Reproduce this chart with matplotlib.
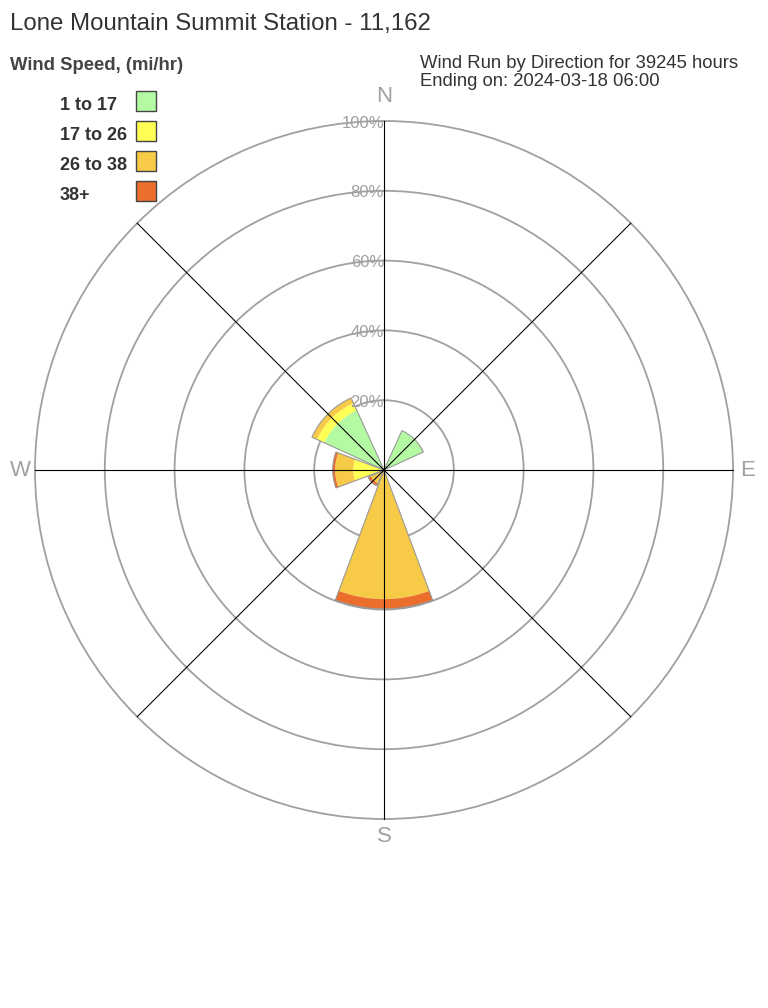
import numpy as np
import matplotlib.pyplot as plt
from matplotlib.patches import Rectangle

plt.rcParams['font.family'] = ['Liberation Sans', 'DejaVu Sans']

# DATA
retninger = ['N', 'NE', 'E', 'SE', 'S', 'SW', 'W', 'NW']
vinkler = np.arange(8) * 45.0
klasser = ['1 to 17', '17 to 26', '26 to 38', '38+']
farger = ['#b3faa3', '#ffff55', '#f7cb47', '#ec6e2d']
# prosent av vindlop per retning og fartsklasse
p_1_17 = [0, 12.4, 0, 0, 0, 0.3, 1.0, 18.8]
p_17_26 = [0, 0, 0, 0, 0, 0.7, 7.8, 2.3]
p_26_38 = [0, 0, 0, 0, 37.0, 3.2, 5.2, 1.6]
p_38 = [0, 0, 0, 0, 2.8, 0.8, 0.7, 0]
ringer = [20, 40, 60, 80, 100]
himmel = ['N', 'E', 'S', 'W']
himmel_vinkel = [0, 90, 180, 270]

serier = [p_1_17, p_17_26, p_26_38, p_38]

# FIGUR
W, H = 768, 1008
fig = plt.figure(figsize=(W / 100, H / 100), dpi=100)
rmax = 101
rad_px = 349 * rmax / 100
cx, cy = 384, H - 470
ax = fig.add_axes([(cx - rad_px) / W, (cy - rad_px) / H, 2 * rad_px / W, 2 * rad_px / H],
                  projection='polar')
ax.set_theta_zero_location('N')
ax.set_theta_direction(-1)
ax.set_ylim(0, rmax)
ax.set_yticks(ringer)
ax.set_yticklabels([])
ax.set_xticks([])
ax.spines['polar'].set_visible(False)
ax.yaxis.grid(True, color='#a0a0a0', lw=1.3)
ax.set_axisbelow(True)

theta = np.deg2rad(vinkler)
bredde = np.deg2rad(41)
bunn = np.zeros(8)
for verdier, farge in zip(serier, farger):
    v = np.array(verdier, dtype=float)
    m = v > 0
    ax.bar(theta[m], v[m], width=bredde, bottom=bunn[m], color=farge,
           edgecolor='none', zorder=2)
    bunn += v
m = bunn > 0
ax.bar(theta[m], bunn[m], width=bredde, bottom=0, fill=False,
       edgecolor='#999999', lw=0.8, zorder=3)

# eiker
for t in theta:
    ax.plot([t, t], [0, 100], color='black', lw=0.8, zorder=4)

for r in ringer:
    ax.text(0, r - 0.6, f'{r}%', ha='right', va='center', color='#a0a0a0',
            fontsize=12, zorder=5)

avstand = [106.9, 104.3, 104.9, 104.3]
for navn, v, d in zip(himmel, himmel_vinkel, avstand):
    ax.text(np.deg2rad(v), d, navn, ha='center', va='center',
            color='#a0a0a0', fontsize=16)

# TEKST
def fy(px):
    return 1 - px / H

fig.text(10 / W, fy(30), 'Lone Mountain Summit Station - 11,162', fontsize=17.3,
         color='#333333', va='baseline')
fig.text(10 / W, fy(70), 'Wind Speed, (mi/hr)', fontsize=13.3, fontweight='bold',
         color='#444444', va='baseline')
fig.text(420 / W, fy(68), 'Wind Run by Direction for 39245 hours', fontsize=13.3,
         color='#333333', va='baseline')
fig.text(420 / W, fy(86), 'Ending on: 2024-03-18 06:00', fontsize=13.3,
         color='#333333', va='baseline')

for i, (navn, farge) in enumerate(zip(klasser, farger)):
    y0 = 110 + 30 * i
    fig.text(60 / W, fy(y0), navn, fontsize=13, fontweight='bold',
             color='#333333', va='baseline')
    fig.add_artist(Rectangle((136 / W, fy(y0 + 1)), 20 / W, 20 / H,
                             transform=fig.transFigure, facecolor=farge,
                             edgecolor='#444444', lw=1))

fig.savefig('out.png', dpi=100)
